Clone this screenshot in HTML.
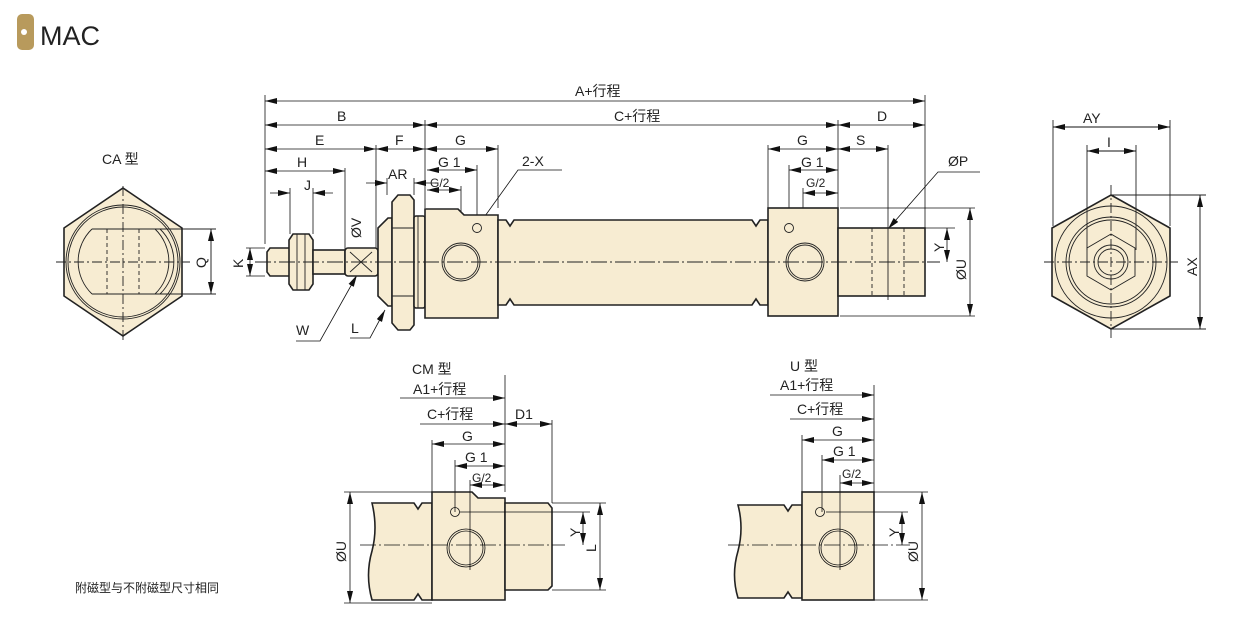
<!DOCTYPE html>
<html><head><meta charset="utf-8"><style>
html,body{margin:0;padding:0;background:#fff;width:1246px;height:642px;overflow:hidden}
svg{display:block}
text{font-family:"Liberation Sans","Noto Sans CJK SC",sans-serif;fill:#222}
</style></head><body>
<svg width="1246" height="642" viewBox="0 0 1246 642" xmlns="http://www.w3.org/2000/svg">
<defs>
<marker id="a" viewBox="0 0 12 6" refX="12" refY="3" markerWidth="12" markerHeight="6" markerUnits="userSpaceOnUse" orient="auto-start-reverse"><path d="M0,0L12,3L0,6z" fill="#111"/></marker>
</defs>
<!-- title -->
<rect x="17" y="14" width="17" height="36" rx="5" fill="#b89a5c"/>
<circle cx="24" cy="32" r="3" fill="#fff"/>
<text x="40" y="45" font-size="27" fill="#222">MAC</text>

<g stroke="#111" stroke-width="0.8" fill="none">
<!-- ===== main dims ===== -->
<line x1="265" y1="95" x2="265" y2="244"/>
<line x1="925" y1="95" x2="925" y2="228"/>
<line x1="425" y1="120" x2="425" y2="208"/>
<line x1="838" y1="120" x2="838" y2="208"/>
<line x1="376" y1="145" x2="376" y2="250"/>
<line x1="498" y1="145" x2="498" y2="208"/>
<line x1="768" y1="145" x2="768" y2="208"/>
<line x1="888" y1="145" x2="888" y2="296"/>
<line x1="345" y1="168" x2="345" y2="250"/>
<line x1="290" y1="188" x2="290" y2="234"/>
<line x1="313" y1="188" x2="313" y2="234"/>
<line x1="387" y1="178" x2="387" y2="195"/>
<line x1="414" y1="178" x2="414" y2="195"/>
<line x1="477" y1="165" x2="477" y2="228"/>
<line x1="461" y1="186" x2="461" y2="280"/>
<line x1="789" y1="165" x2="789" y2="228"/>
<line x1="803" y1="188" x2="803" y2="280"/>

<line x1="265" y1="101" x2="925" y2="101" marker-start="url(#a)" marker-end="url(#a)"/>
<line x1="265" y1="125" x2="425" y2="125" marker-start="url(#a)" marker-end="url(#a)"/>
<line x1="425" y1="125" x2="838" y2="125" marker-start="url(#a)" marker-end="url(#a)"/>
<line x1="838" y1="125" x2="925" y2="125" marker-start="url(#a)" marker-end="url(#a)"/>
<line x1="265" y1="149" x2="376" y2="149" marker-start="url(#a)" marker-end="url(#a)"/>
<line x1="376" y1="149" x2="425" y2="149" marker-start="url(#a)" marker-end="url(#a)"/>
<line x1="425" y1="149" x2="498" y2="149" marker-start="url(#a)" marker-end="url(#a)"/>
<line x1="768" y1="149" x2="838" y2="149" marker-start="url(#a)" marker-end="url(#a)"/>
<line x1="838" y1="149" x2="888" y2="149" marker-start="url(#a)" marker-end="url(#a)"/>
<line x1="265" y1="171" x2="345" y2="171" marker-start="url(#a)" marker-end="url(#a)"/>
<line x1="427" y1="170" x2="477" y2="170" marker-start="url(#a)" marker-end="url(#a)"/>
<line x1="789" y1="170" x2="838" y2="170" marker-start="url(#a)" marker-end="url(#a)"/>
<line x1="270" y1="193" x2="290" y2="193" marker-end="url(#a)"/>
<line x1="333" y1="193" x2="313" y2="193" marker-end="url(#a)"/>
<line x1="366" y1="183" x2="387" y2="183" marker-end="url(#a)"/>
<line x1="435" y1="183" x2="414" y2="183" marker-end="url(#a)"/>
<line x1="427" y1="190" x2="461" y2="190" marker-start="url(#a)" marker-end="url(#a)"/>
<line x1="803" y1="193" x2="838" y2="193" marker-start="url(#a)" marker-end="url(#a)"/>
<!-- K -->
<line x1="246" y1="248" x2="265" y2="248"/><line x1="246" y1="276" x2="265" y2="276"/>
<line x1="250" y1="248" x2="250" y2="276" marker-start="url(#a)" marker-end="url(#a)"/>
<!-- V -->
<line x1="365" y1="250" x2="365" y2="274" marker-start="url(#a)" marker-end="url(#a)"/>
<!-- right Y, U -->
<line x1="840" y1="208" x2="975" y2="208"/><line x1="840" y1="316" x2="975" y2="316"/>
<line x1="925" y1="228" x2="955" y2="228"/>
<line x1="947" y1="228" x2="947" y2="262" marker-start="url(#a)" marker-end="url(#a)"/>
<line x1="970" y1="208" x2="970" y2="316" marker-start="url(#a)" marker-end="url(#a)"/>
<!-- leaders -->
<polyline points="562,170 518,170 475,230" marker-end="url(#a)"/>
<polyline points="980,172 938,172 888,229" marker-end="url(#a)"/>
<polyline points="296,341 320,341 357,275" marker-end="url(#a)"/>
<polyline points="350,338 370,338 385,310" marker-end="url(#a)"/>
</g>

<!-- main body -->
<g stroke="#222" stroke-width="1.6" fill="#f7ecd2">
<path d="M270,248 H290 V276 H270 L267,272 V252z"/>
<path d="M293,234 H309 L313,240 V284 L309,290 H293 L289,284 V240z"/>
<rect x="313" y="250" width="32" height="24"/>
<rect x="345" y="248" width="33" height="28" rx="3"/>
<path d="M378,228 L388,218 H392 V306 H388 L378,296z"/>
<path d="M392,202 L398,195 H410 L414,200 V325 L410,330 H398 L392,323z"/>
<rect x="414" y="216" width="11" height="92" rx="2"/>
<path d="M425,209 H458 L464,215 H498 V318 H425z"/>
<path d="M498,220 H506 L510,226 L514,220 H752 L756,226 L760,220 H768 V305 H760 L756,299 L752,305 H514 L510,299 L506,305 H498z"/>
<rect x="768" y="208" width="70" height="108"/>
<rect x="838" y="228" width="87" height="68"/>
</g>
<g stroke="#222" stroke-width="0.9" fill="none">
<line x1="392" y1="228" x2="414" y2="228"/><line x1="392" y1="296" x2="414" y2="296"/>
<line x1="297" y1="234" x2="297" y2="290"/><line x1="305" y1="234" x2="305" y2="290"/>
<line x1="350" y1="252" x2="372" y2="272"/><line x1="350" y1="272" x2="372" y2="252"/>
<line x1="418" y1="216" x2="418" y2="308"/>
<circle cx="461" cy="262" r="19"/><circle cx="461" cy="262" r="17"/>
<circle cx="477" cy="228" r="4.5"/>
<circle cx="805" cy="262" r="19"/><circle cx="805" cy="262" r="17"/>
<circle cx="789" cy="228" r="4.5"/>
<line x1="872" y1="228" x2="872" y2="296" stroke-dasharray="4,3"/>
<line x1="904" y1="228" x2="904" y2="296" stroke-dasharray="4,3"/>
<line x1="888" y1="228" x2="888" y2="300"/>
<line x1="255" y1="262" x2="940" y2="262" stroke-dasharray="16,3,2,3"/>
</g>

<!-- left hex CA -->
<g stroke="#222" stroke-width="1.6" fill="#f7ecd2">
<path d="M123,188 L182,228 V296 L123,336 L64,296 V228z"/>
</g>
<g stroke="#222" stroke-width="0.9" fill="none">
<circle cx="123" cy="262" r="57"/><circle cx="123" cy="262" r="55"/>
<path d="M92,229 H160 M92,294 H160"/>
<path d="M92,229 A45,45 0 0 0 92,294 M155,229 A45,45 0 0 1 155,294 M160,229 A45,45 0 0 1 160,294"/>
<line x1="107" y1="229" x2="107" y2="294" stroke-dasharray="4,3"/>
<line x1="139" y1="229" x2="139" y2="294" stroke-dasharray="4,3"/>
<line x1="123" y1="186" x2="123" y2="340" stroke-dasharray="10,3,2,3"/>
<line x1="56" y1="262" x2="190" y2="262" stroke-dasharray="10,3,2,3"/>
<line x1="160" y1="229" x2="216" y2="229"/><line x1="160" y1="294" x2="216" y2="294"/>
<line x1="211" y1="229" x2="211" y2="294" stroke="#111" marker-start="url(#a)" marker-end="url(#a)"/>
</g>

<!-- right hex -->
<g stroke="#222" stroke-width="1.6" fill="#f7ecd2">
<path d="M1111,195 L1170,228 V296 L1111,329 L1052,296 V228z"/>
</g>
<g stroke="#222" stroke-width="0.9" fill="none">
<circle cx="1111" cy="262" r="56"/><circle cx="1111" cy="262" r="45"/><circle cx="1111" cy="262" r="42"/>
<path d="M1111,234 L1135,248 V276 L1111,290 L1087,276 V248z"/>
<circle cx="1111" cy="262" r="17"/><circle cx="1111" cy="262" r="13"/>
<line x1="1111" y1="185" x2="1111" y2="338" stroke-dasharray="10,3,2,3"/>
<line x1="1044" y1="262" x2="1178" y2="262" stroke-dasharray="10,3,2,3"/>
<line x1="1053" y1="120" x2="1053" y2="226"/><line x1="1170" y1="120" x2="1170" y2="226"/>
<line x1="1087" y1="145" x2="1087" y2="250"/><line x1="1136" y1="145" x2="1136" y2="250"/>
<line x1="1053" y1="127" x2="1170" y2="127" stroke="#111" marker-start="url(#a)" marker-end="url(#a)"/>
<line x1="1087" y1="151" x2="1136" y2="151" stroke="#111" marker-start="url(#a)" marker-end="url(#a)"/>
<line x1="1111" y1="195" x2="1206" y2="195"/><line x1="1111" y1="329" x2="1206" y2="329"/>
<line x1="1200" y1="195" x2="1200" y2="329" stroke="#111" marker-start="url(#a)" marker-end="url(#a)"/>
</g>

<!-- CM view -->
<g stroke="#222" stroke-width="1.6" fill="#f7ecd2">
<path d="M372,503 H414 L418,509 L422,503 H432 V600 H422 L418,594 L414,600 H372 Q365,575 372,551 Q378,528 372,503z"/>
<path d="M432,492 H472 L478,498 H505 V600 H432z"/>
<path d="M505,503 H548 L552,508 V586 L548,590 H505z"/>
</g>
<g stroke="#111" stroke-width="0.8" fill="none">
<circle cx="466" cy="548" r="19"/><circle cx="466" cy="548" r="17"/>
<circle cx="455" cy="512" r="4.5"/>
<line x1="360" y1="545" x2="565" y2="545" stroke-dasharray="16,3,2,3"/>
<line x1="455" y1="460" x2="455" y2="512"/>
<line x1="470" y1="480" x2="470" y2="570"/>
<line x1="432" y1="440" x2="432" y2="492"/>
<line x1="505" y1="375" x2="505" y2="492"/>
<line x1="552" y1="420" x2="552" y2="503"/>
<line x1="400" y1="398" x2="505" y2="398" marker-end="url(#a)"/>
<line x1="420" y1="424" x2="505" y2="424" marker-end="url(#a)"/>
<line x1="505" y1="424" x2="552" y2="424" marker-start="url(#a)" marker-end="url(#a)"/>
<line x1="432" y1="444" x2="505" y2="444" marker-start="url(#a)" marker-end="url(#a)"/>
<line x1="455" y1="466" x2="505" y2="466" marker-start="url(#a)" marker-end="url(#a)"/>
<line x1="470" y1="485" x2="505" y2="485" marker-start="url(#a)" marker-end="url(#a)"/>
<line x1="344" y1="492" x2="432" y2="492"/><line x1="344" y1="603" x2="432" y2="603"/>
<line x1="350" y1="492" x2="350" y2="603" marker-start="url(#a)" marker-end="url(#a)"/>
<line x1="552" y1="503" x2="606" y2="503"/><line x1="552" y1="590" x2="606" y2="590"/>
<line x1="600" y1="503" x2="600" y2="590" marker-start="url(#a)" marker-end="url(#a)"/>
<line x1="460" y1="512" x2="590" y2="512"/>
<line x1="583" y1="512" x2="583" y2="545" marker-start="url(#a)" marker-end="url(#a)"/>
</g>

<!-- U view -->
<g stroke="#222" stroke-width="1.6" fill="#f7ecd2">
<path d="M738,505 H784 L788,511 L792,505 H802 V598 H792 L788,592 L784,598 H738 Q731,575 738,551 Q744,528 738,505z"/>
<rect x="802" y="492" width="72" height="108"/>
</g>
<g stroke="#111" stroke-width="0.8" fill="none">
<circle cx="838" cy="548" r="19"/><circle cx="838" cy="548" r="17"/>
<circle cx="820" cy="512" r="4.5"/>
<line x1="728" y1="545" x2="910" y2="545" stroke-dasharray="16,3,2,3"/>
<line x1="822" y1="455" x2="822" y2="512"/>
<line x1="840" y1="475" x2="840" y2="570"/>
<line x1="802" y1="435" x2="802" y2="492"/>
<line x1="874" y1="385" x2="874" y2="492"/>
<line x1="770" y1="395" x2="874" y2="395" marker-end="url(#a)"/>
<line x1="790" y1="419" x2="874" y2="419" marker-end="url(#a)"/>
<line x1="802" y1="440" x2="874" y2="440" marker-start="url(#a)" marker-end="url(#a)"/>
<line x1="822" y1="460" x2="874" y2="460" marker-start="url(#a)" marker-end="url(#a)"/>
<line x1="840" y1="483" x2="874" y2="483" marker-start="url(#a)" marker-end="url(#a)"/>
<line x1="874" y1="492" x2="928" y2="492"/><line x1="874" y1="600" x2="928" y2="600"/>
<line x1="922" y1="492" x2="922" y2="600" marker-start="url(#a)" marker-end="url(#a)"/>
<line x1="826" y1="512" x2="908" y2="512"/>
<line x1="902" y1="512" x2="902" y2="545" marker-start="url(#a)" marker-end="url(#a)"/>
</g>

<!-- labels -->
<g font-size="14">
<text x="575" y="96">A+行程</text>
<text x="337" y="121">B</text>
<text x="614" y="121">C+行程</text>
<text x="877" y="121">D</text>
<text x="315" y="145">E</text>
<text x="395" y="145">F</text>
<text x="455" y="145">G</text>
<text x="797" y="145">G</text>
<text x="856" y="145">S</text>
<text x="297" y="167">H</text>
<text x="438" y="167">G 1</text>
<text x="801" y="167">G 1</text>
<text x="522" y="166">2-X</text>
<text x="948" y="166">ØP</text>
<text x="304" y="190">J</text>
<text x="388" y="179">AR</text>
<text x="430" y="187" font-size="12">G/2</text>
<text x="806" y="187" font-size="12">G/2</text>
<text x="296" y="335">W</text>
<text x="351" y="333">L</text>
<text x="102" y="164">CA 型</text>
<text x="1083" y="123">AY</text>
<text x="1107" y="147">I</text>
<text x="412" y="374">CM 型</text>
<text x="413" y="394">A1+行程</text>
<text x="427" y="419">C+行程</text>
<text x="515" y="419">D1</text>
<text x="462" y="441">G</text>
<text x="465" y="462">G 1</text>
<text x="472" y="482" font-size="12">G/2</text>
<text x="790" y="371">U 型</text>
<text x="780" y="390">A1+行程</text>
<text x="797" y="414">C+行程</text>
<text x="832" y="436">G</text>
<text x="833" y="456">G 1</text>
<text x="842" y="478" font-size="12">G/2</text>
<text x="75" y="592" font-size="12">附磁型与不附磁型尺寸相同</text>
</g>
<g font-size="14">
<text transform="translate(361,238) rotate(-90)">ØV</text>
<text transform="translate(243,268) rotate(-90)">K</text>
<text transform="translate(206,268) rotate(-90)">Q</text>
<text transform="translate(944,252) rotate(-90)">Y</text>
<text transform="translate(966,280) rotate(-90)">ØU</text>
<text transform="translate(1197,276) rotate(-90)">AX</text>
<text transform="translate(346,562) rotate(-90)">ØU</text>
<text transform="translate(580,537) rotate(-90)">Y</text>
<text transform="translate(596,552) rotate(-90)">L</text>
<text transform="translate(899,537) rotate(-90)">Y</text>
<text transform="translate(918,562) rotate(-90)">ØU</text>
</g>
</svg>
</body></html>
